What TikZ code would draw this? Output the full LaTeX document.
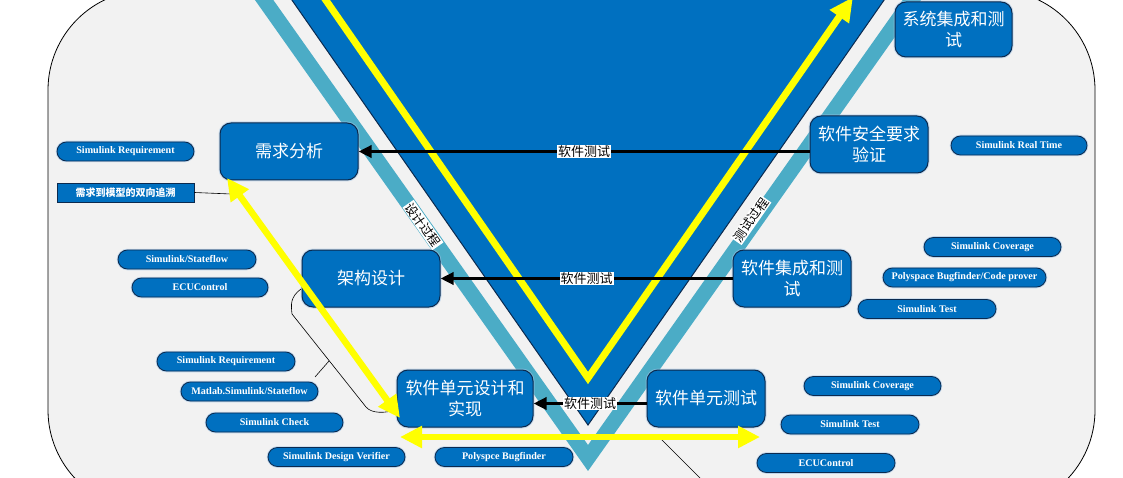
\documentclass[tikz,border=0pt]{standalone}
\usepackage{fontspec}
\setmainfont{Liberation Serif}
\newfontfamily\cjk{Noto Sans CJK SC}
\usetikzlibrary{arrows.meta,calc}
\definecolor{vblue}{HTML}{0070C0}
\definecolor{vnavy}{HTML}{0B2A4F}
\definecolor{vteal}{HTML}{4BACC6}
\definecolor{vbg}{HTML}{F2F2F2}
\definecolor{vglow}{HTML}{9DC3E6}
\definecolor{vyellow}{HTML}{FFFF00}
\tikzset{
  bigbox/.style={draw=vnavy, fill=vblue, line width=1pt, rounded corners=11pt,
    text=white, font=\cjk\fontsize{17}{21}\selectfont, align=center,
    inner sep=2pt, minimum height=57pt,
    preaction={draw=vglow, line width=3pt, opacity=0.5}},
  pill/.style={draw=vnavy, fill=vblue, line width=0.8pt, rounded corners=9.5pt,
    text=white, font=\bfseries\fontsize{10.1}{11}\selectfont,
    minimum width=137pt, minimum height=19pt, inner sep=0pt,
    preaction={draw=vglow, line width=2.5pt, opacity=0.6}},
  tracebox/.style={draw=vnavy, fill=vblue, line width=0.8pt,
    text=white, font=\cjk\bfseries\fontsize{10}{12}\selectfont,
    minimum width=137pt, minimum height=19pt, inner sep=0pt},
  lbl/.style={fill=white, inner sep=1pt, text=black, font=\cjk\fontsize{13}{15}\selectfont},
  rlbl/.style={fill=white, inner sep=1pt, text=black, font=\cjk\fontsize{12.5}{14}\selectfont},
  tarrow/.style={line width=3.8pt, -{Triangle[length=13pt,width=12pt]}},
  yarrow/.style={draw=vyellow, line width=6.5pt, {Triangle[length=22pt,width=21pt]}-{Triangle[length=22pt,width=21pt]}},
  thinline/.style={draw=black, line width=0.6pt}
}
\begin{document}
\begin{tikzpicture}[x=1pt,y=-1pt]
\useasboundingbox (0,0) rectangle (1123,478);
\clip (0,0) rectangle (1123,478);
% background panel
\draw[fill=vbg, line width=0.8pt, rounded corners=100pt] (48,-10) rectangle (1095,510);
% teal V band
\draw[vteal, line width=15pt, line join=miter] (250,-20) -- (588,458) -- (926,-20);
% blue triangle
\filldraw[fill=vblue, draw=vnavy, line width=1pt] (264,-40) -- (588,425) -- (912,-40) -- cycle;
% yellow inner V with arrow
\draw[vyellow, line width=7pt, line join=miter, -{Triangle[length=24pt,width=22pt]}] (298,-40) -- (588,378) -- (853,-3);
% thin connector lines
\coordinate (tr) at (231,194);
\coordinate (bs) at (301,289);
\coordinate (bm) at (329,361);
\coordinate (bt) at (315,377);
\coordinate (t1) at (661,439);
\coordinate (t2) at (706,484);
\draw[thinline] (t1) -- (t2);
% boxes
\node[bigbox, minimum width=138pt] (req) at (289,151.5) {需求分析};
\node[bigbox, minimum width=138pt] (arch) at (371,278.5) {架构设计};
\node[bigbox, minimum width=136pt] (unit) at (465,398.5) {软件单元设计和\\实现};
\node[bigbox, minimum width=118pt] (utest) at (706,398.5) {软件单元测试};
\node[bigbox, minimum width=118pt] (itest) at (792,278.5) {软件集成和测\\试};
\node[bigbox, minimum width=118pt] (safe) at (869,144.5) {软件安全要求\\验证};
\node[bigbox, minimum width=117pt, minimum height=55pt] (sys) at (953.5,29.5) {系统集成和测\\试};
% brace
\draw[thinline] (bs) .. controls (290,297) and (291,305) .. (292,314) -- (366,407) .. controls (372,414) and (385,413) .. (unit.west |- 0,410);
\draw[thinline] (bm) -- (bt);
% black test arrows
\draw[tarrow] (safe.west |- req.east) -- (req.east) node[lbl, midway] {软件测试};
\draw[tarrow] (itest.west) -- (arch.east) node[lbl, midway] {软件测试};
\draw[tarrow] ($(utest.west)+(0,5)$) -- ($(unit.east)+(0,5)$) node[lbl, midway] {软件测试};
% rotated process labels
\node[rlbl, rotate=-55] (dlbl) at (423,225) {设计过程};
\node[rlbl, rotate=55] (tlbl) at (751,220) {测试过程};
% left tool labels
\node[pill] (l1) at (125.5,151.5) {Simulink Requirement};
\node[tracebox] (trace) at (125.5,192.5) {需求到模型的双向追溯};
\draw[thinline] (trace.east) -- (tr);
\node[pill, minimum width=138pt] (l3) at (187,259.5) {Simulink/Stateflow};
\node[pill, minimum width=136pt] (l4) at (200,287.5) {ECUControl};
\node[pill, minimum width=138pt] (l5) at (226,361.5) {Simulink Requirement};
\node[pill] (l6) at (249.5,391.5) {Matlab.Simulink/Stateflow};
\node[pill] (l7) at (274.5,422.5) {Simulink Check};
\node[pill] (l8) at (336.5,457) {Simulink Design Verifier};
\node[pill, minimum width=138pt] (l9) at (504,457) {Polyspce Bugfinder};
% right tool labels
\node[pill, minimum width=136pt] (r1) at (1019,145.5) {Simulink Real Time};
\node[pill] (r2) at (992.5,247) {Simulink Coverage};
\node[pill, minimum width=163pt] (r3) at (964.5,277.5) {Polyspace Bugfinder/Code prover};
\node[pill, minimum width=138pt] (r4) at (927,309) {Simulink Test};
\node[pill] (r5) at (872.5,386) {Simulink Coverage};
\node[pill, minimum width=138pt] (r6) at (850,424.5) {Simulink Test};
\node[pill, minimum width=138pt] (r7) at (826,463) {ECUControl};
% yellow arrows
\coordinate (ya) at (227,178);
\coordinate (yb) at (400,418);
\coordinate (yc) at (400,437);
\coordinate (yd) at (760,437);
\draw[yarrow] (ya) -- (yb);
\draw[yarrow] (yc) -- (yd);
\end{tikzpicture}
\end{document}
